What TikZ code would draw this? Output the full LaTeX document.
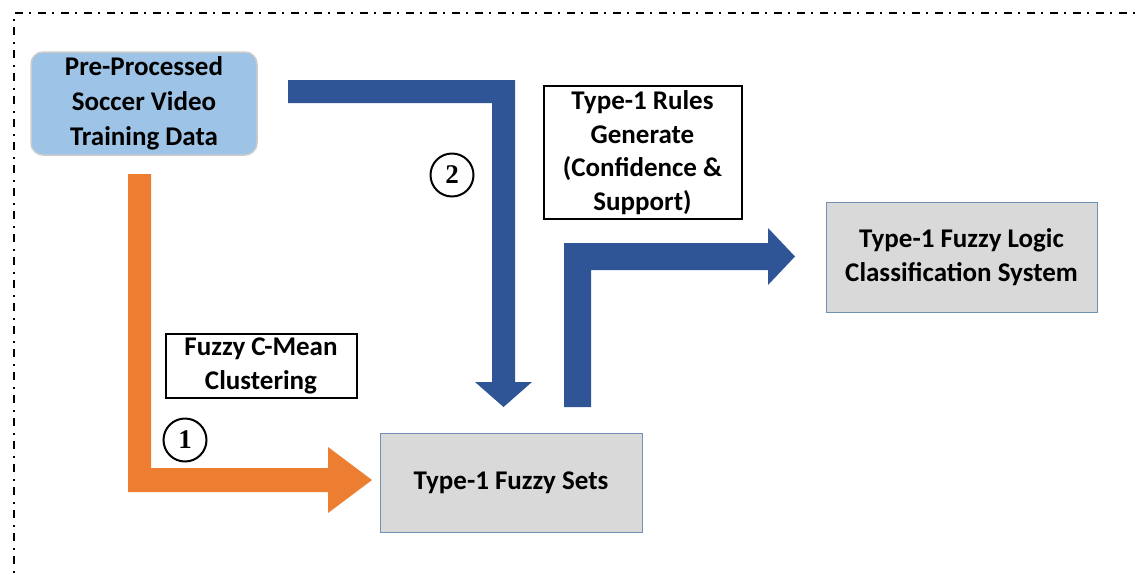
\documentclass[tikz,border=0pt]{standalone}
\usepackage{fontspec}
\setmainfont{Carlito}
\newfontfamily\numfont{Liberation Serif}
\definecolor{dataBlue}{HTML}{9DC3E6}
\definecolor{flowBlue}{HTML}{2F5597}
\definecolor{flowOrange}{HTML}{ED7D31}
\definecolor{boxGray}{HTML}{D9D9D9}
\definecolor{boxEdge}{HTML}{7090B4}
\begin{document}
\begin{tikzpicture}[x=1pt,y=-1pt,
  txt/.style={font=\fontsize{27}{33.5}\selectfont\bfseries, align=center, inner sep=0pt},
  databox/.style={txt, fill=dataBlue, draw=black!20, line width=1.5pt, rounded corners=12pt, minimum width=226pt, minimum height=103pt, font=\fontsize{27}{35}\selectfont\bfseries},
  graybox/.style={txt, fill=boxGray, draw=boxEdge, line width=1pt},
  labelbox/.style={txt, fill=white, draw=black, line width=2pt},
  stepnum/.style={circle, draw=black, line width=2pt, minimum size=43pt, inner sep=0pt, font=\numfont\fontsize{27}{27}\selectfont\bfseries}
]
\useasboundingbox (0,0) rectangle (1139,574);
% dash-dot frame
\draw[line width=2pt, dash pattern=on 8pt off 7pt on 2pt off 6pt] (1150,13) -- (14,13) -- (14,590);

% boxes
\node[databox] (data) at (144,103.5) {Pre-Processed\\Soccer Video\\Training Data};
\node[graybox, minimum width=271pt, minimum height=110pt] (cls) at (961.5,257) {Type-1 Fuzzy Logic\\Classification System};
\node[graybox, minimum width=262pt, minimum height=99pt] (sets) at (511,482.5) {Type-1 Fuzzy Sets};
\node[labelbox, minimum width=198pt, minimum height=133pt] (rules) at (642.5,152.5) {Type-1 Rules\\Generate\\(Confidence \&\\Support)};
\node[labelbox, minimum width=191pt, minimum height=64pt] (fcm) at (261,366) {Fuzzy C-Mean\\Clustering};

% step markers
\node[stepnum] (s1) at (185,440) {1};
\node[stepnum] (s2) at (452,175) {2};

% orange block arrow: data -> fuzzy sets
\fill[flowOrange] (128,174) -- (151,174) -- (151,468) -- (328,468) -- (328,447)
  -- (372,480) -- (328,513) -- (328,492) -- (128,492) -- cycle;

% blue block arrow: data -> fuzzy sets (rule path)
\fill[flowBlue] (288,80) -- (515,80) -- (515,382) -- (532,382) -- (503.5,407)
  -- (475,382) -- (492,382) -- (492,103) -- (288,103) -- cycle;

% blue block arrow: fuzzy sets -> classification system
\fill[flowBlue] (564,407) -- (564,243) -- (768,243) -- (768,228) -- (795,256.5)
  -- (768,285) -- (768,270) -- (591,270) -- (591,407) -- cycle;
\end{tikzpicture}
\end{document}
